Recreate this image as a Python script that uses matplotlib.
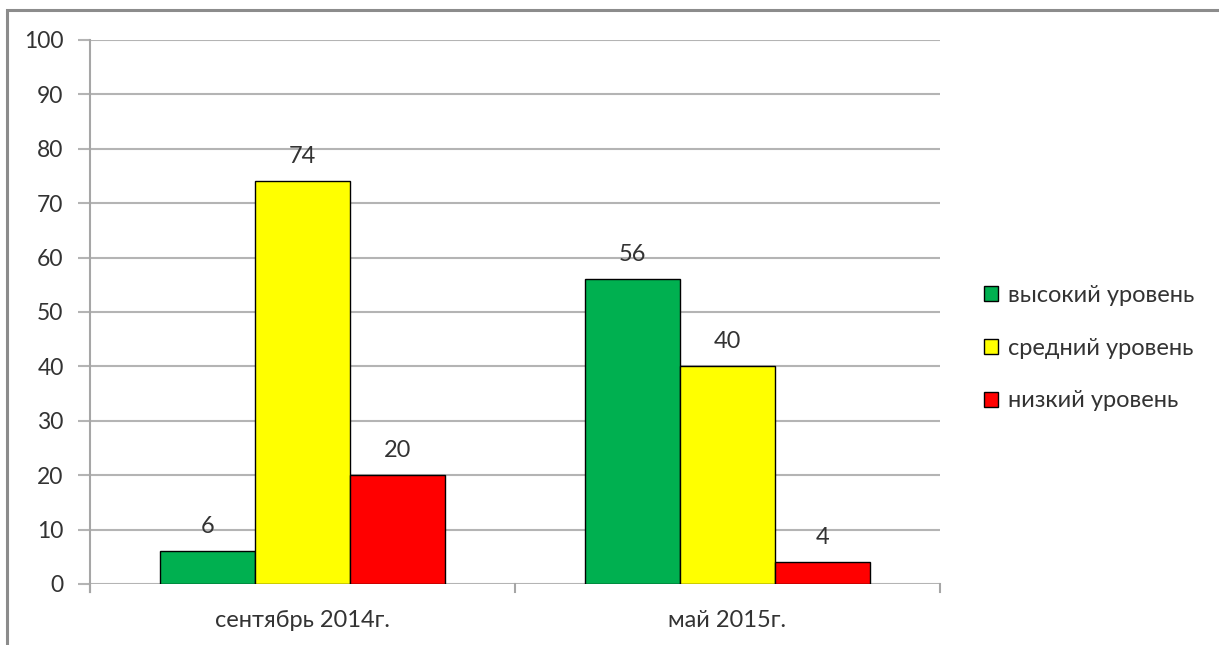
import matplotlib.pyplot as plt
import numpy as np
from matplotlib.patches import Rectangle

categories = ['сентябрь 2014г.', 'май 2015г.']
series_names = ['высокий уровень', 'средний уровень', 'низкий уровень']
high = [6, 56]
medium = [74, 40]
low = [20, 4]
colors = ['#00b050', '#ffff00', '#ff0000']
y_ticks = [0, 10, 20, 30, 40, 50, 60, 70, 80, 90, 100]

plt.rcParams['font.family'] = ['Lato', 'DejaVu Sans']

W, H = 1219, 645
fig = plt.figure(figsize=(W / 100, H / 100), dpi=100)
ax = fig.add_axes([90 / W, 1 - 584 / H, 850 / W, 544 / H])

# outer frame (left and top visible, cut at right/bottom)
fig.patches.append(Rectangle((7 / W, -0.05), 1.2, 1 - 10 / H + 0.05,
                             transform=fig.transFigure, fill=False,
                             edgecolor='#8c8c8c', linewidth=2.2, zorder=0))

x = np.arange(len(categories))
width = 95 / 425
for i, (vals, name) in enumerate(zip([high, medium, low], series_names)):
    bars = ax.bar(x + (i - 1) * width, vals, width, color=colors[i],
                  edgecolor='black', linewidth=1.0, label=name, zorder=3)
    for b, v in zip(bars, vals):
        ax.annotate(str(v), (b.get_x() + b.get_width() / 2, v),
                    xytext=(0, 18), textcoords='offset points',
                    ha='center', va='center', fontsize=17, color='#333333')

ax.set_xlim(-0.5, 1.5)
ax.set_ylim(0, 100)
ax.set_yticks(y_ticks)
ax.yaxis.grid(True, color='#b4b4b4', linewidth=1.5, zorder=0)
ax.set_axisbelow(True)
for s in ['top', 'right', 'bottom']:
    ax.spines[s].set_visible(False)
ax.spines['left'].set_color('#a6a6a6')
ax.spines['left'].set_linewidth(1.5)
ax.spines['left'].set_bounds(-1.5, 100)
ax.tick_params(axis='y', length=9, width=1.5, color='#b4b4b4',
               labelsize=16.5, labelcolor='#333333', pad=10)

ax.set_xticks(x)
ax.set_xticklabels(categories)
ax.tick_params(axis='x', length=0, labelsize=17, labelcolor='#333333', pad=19)
# category separator ticks
for xb in [-0.5, 0.5, 1.5]:
    ax.plot([xb, xb], [0, -1.5], color='#a6a6a6', linewidth=1.5,
            clip_on=False)

ax.legend(loc='center left', bbox_to_anchor=(963 / W, 1 - 348 / H),
          bbox_transform=fig.transFigure, frameon=False, fontsize=17,
          handlelength=0.6, handleheight=0.6, handletextpad=0.4,
          labelspacing=1.35, labelcolor='#333333')

fig.savefig('out.png', dpi=100)
